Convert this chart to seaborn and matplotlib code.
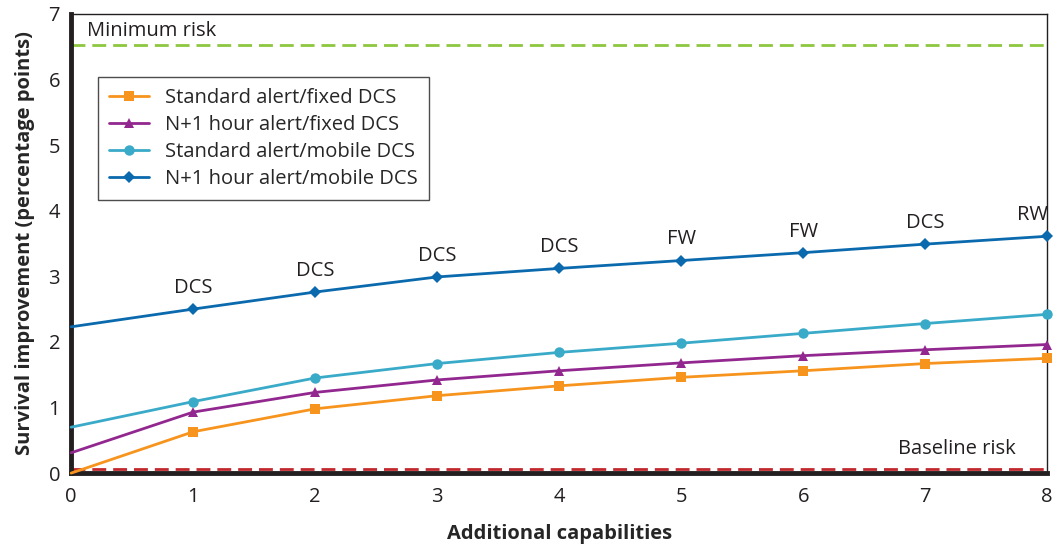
import numpy as np
import pandas as pd
import matplotlib
matplotlib.use('Agg')
import matplotlib.pyplot as plt
import seaborn as sns

# data
capabilities = [0, 1, 2, 3, 4, 5, 6, 7, 8]
std_fixed = [0.0, 0.63, 0.98, 1.18, 1.33, 1.46, 1.56, 1.67, 1.75]
n1_fixed = [0.31, 0.93, 1.23, 1.42, 1.56, 1.68, 1.79, 1.88, 1.96]
std_mobile = [0.70, 1.09, 1.45, 1.67, 1.84, 1.98, 2.13, 2.28, 2.42]
n1_mobile = [2.23, 2.50, 2.76, 2.99, 3.12, 3.24, 3.36, 3.49, 3.61]
point_labels = ['', 'DCS', 'DCS', 'DCS', 'DCS', 'FW', 'FW', 'DCS', 'RW']
minimum_risk = 6.52
baseline_risk = 0.06

series_names = ['Standard alert/fixed DCS', 'N+1 hour alert/fixed DCS',
                'Standard alert/mobile DCS', 'N+1 hour alert/mobile DCS']
series_vals = [std_fixed, n1_fixed, std_mobile, n1_mobile]
colors = ['#f7941d', '#92278f', '#3aaac9', '#0b6aad']
markers = ['s', '^', 'o', 'D']
msizes = [7, 6.5, 7.5, 6.5]

sns.set_style('white')
plt.rcParams['font.family'] = ['Open Sans', 'DejaVu Sans']
fs = 14.5

fig = plt.figure(figsize=(10.62, 5.54), dpi=100)
ax = fig.add_axes([0.067, 0.146, 0.919, 0.829])

ax.axhline(minimum_risk, color='#8dc63f', lw=2, ls=(0, (5, 2.5)), zorder=1)
ax.axhline(baseline_risk, color='#c1272d', lw=2, ls=(0, (5, 2.5)), zorder=1)
ax.text(0.13, minimum_risk + 0.06, 'Minimum risk', fontsize=fs, color='#231f20', va='bottom')
ax.text(6.78, 0.22, 'Baseline risk', fontsize=fs, color='#231f20', va='bottom')

for name, vals, c, m, ms in zip(series_names, series_vals, colors, markers, msizes):
    df = pd.DataFrame({'x': capabilities, 'y': vals})
    sns.lineplot(data=df, x='x', y='y', ax=ax, color=c, lw=2, marker=m, markersize=ms,
                 markeredgewidth=0, markevery=slice(1, None), label=name, zorder=3,
                 clip_on=False)

for x, y, lab in zip(capabilities, n1_mobile, point_labels):
    if not lab:
        continue
    xo = -0.12 if x == 8 else 0
    ax.text(x + xo, y + 0.17, lab, ha='center', va='bottom', fontsize=fs, color='#231f20')

ax.set_xlim(0, 8)
ax.set_ylim(0, 7)
ax.set_xticks(range(0, 9))
ax.set_yticks(range(0, 8))
ax.tick_params(axis='both', direction='in', length=8, width=1, labelsize=fs,
               colors='#231f20', pad=8)
ax.tick_params(axis='x', pad=10)
for side in ['left', 'bottom']:
    ax.spines[side].set_linewidth(3.5)
    ax.spines[side].set_color('#231f20')
for side in ['top', 'right']:
    ax.spines[side].set_linewidth(1)
    ax.spines[side].set_color('#231f20')

ax.set_xlabel('Additional capabilities', fontsize=fs, fontweight='bold', labelpad=12)
ax.set_ylabel('Survival improvement (percentage points)', fontsize=fs, fontweight='bold', labelpad=10)

leg = ax.legend(loc='upper left', bbox_to_anchor=(0.027, 0.863), borderaxespad=0, fontsize=fs,
                frameon=True, fancybox=False, edgecolor='#231f20', handlelength=2,
                borderpad=0.55, labelspacing=0.35)
leg.get_frame().set_linewidth(1)

fig.savefig('out.png', dpi=100)
